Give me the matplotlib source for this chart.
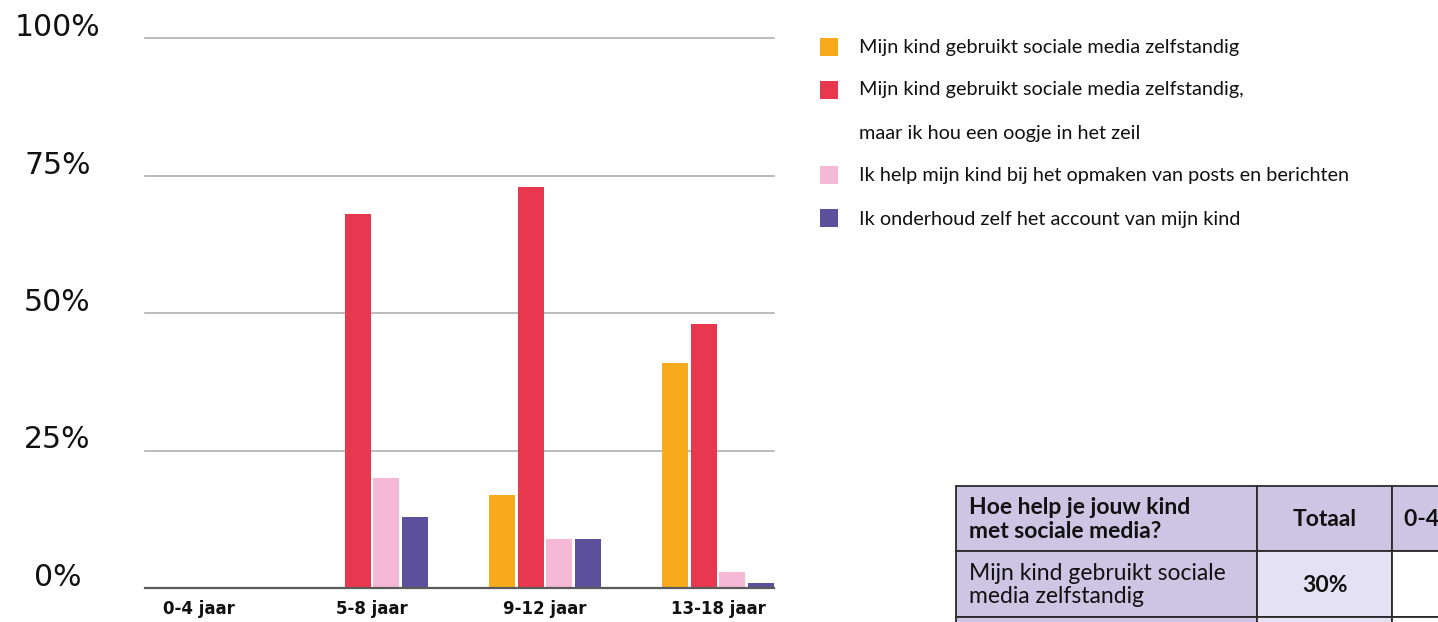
import matplotlib
matplotlib.use("Agg")
import matplotlib.pyplot as plt
import matplotlib.transforms as mtransforms
import numpy as np
from matplotlib.patches import Rectangle

# Age groups and answer shares (%)
groups = ["0-4 jaar", "5-8 jaar", "9-12 jaar", "13-18 jaar"]
zelfstandig = [0, 0, 17, 41]
zelfstandig_oogje = [0, 68, 73, 48]
help_posts = [0, 20, 9, 3]
account_ouder = [0, 13, 9, 1]

series_labels = [
    "Mijn kind gebruikt sociale media zelfstandig",
    "Mijn kind gebruikt sociale media zelfstandig,\nmaar ik hou een oogje in het zeil",
    "Ik help mijn kind bij het opmaken van posts en berichten",
    "Ik onderhoud zelf het account van mijn kind",
]
series_colors = ["#F7AA1C", "#E8384F", "#F5B8D6", "#5C509D"]
yticks = [0, 25, 50, 75, 100]
ytick_labels = ["0%", "25%", "50%", "75%", "100%"]

# Summary table
table_header = ["Hoe help je jouw kind\nmet sociale media?", "Totaal", "0-4 jaar"]
table_rows = [
    ["Mijn kind gebruikt sociale\nmedia zelfstandig", "30%", ""],
    ["", "", ""],
]

plt.rcParams["font.family"] = ["Lato", "DejaVu Sans"]

W, H = 1438, 622
fig = plt.figure(figsize=(W / 100, H / 100), dpi=100)

ax_l, ax_r, ax_b, ax_t = 145, 774, 588, 38
ax = fig.add_axes([ax_l / W, (H - ax_b) / H, (ax_r - ax_l) / W, (ax_b - ax_t) / H])
ax.set_xlim(-0.312, 3.324)
ax.set_ylim(0, 100)

x = np.arange(len(groups))
width = 0.15
step = 0.166
all_series = [zelfstandig, zelfstandig_oogje, help_posts, account_ouder]
for i, (vals, col) in enumerate(zip(all_series, series_colors)):
    ax.bar(x + (i - 1.5) * step, vals, width=width, color=col, zorder=3)

for v in yticks:
    ax.axhline(v, color="#5a5a5a" if v == 0 else "#a8a8a8",
               lw=1.6 if v == 0 else 1.1, zorder=2 if v else 4, clip_on=False)

for s in ax.spines.values():
    s.set_visible(False)
ax.set_yticks(yticks)
ax.set_yticklabels(ytick_labels, fontsize=21.5, color="#111111",
                   family=["DejaVu Sans"])
ax.tick_params(axis="y", length=0, pad=63)
lift = mtransforms.ScaledTranslation(0, 2 / 100, fig.dpi_scale_trans)
for lbl in ax.get_yticklabels():
    lbl.set_horizontalalignment("center")
    lbl.set_verticalalignment("baseline")
    lbl.set_transform(lbl.get_transform() + lift)
ax.set_xticks(x)
ax.set_xticklabels(groups, fontsize=12, fontweight="bold", color="#111111",
                   family=["DejaVu Sans"])
ax.tick_params(axis="x", length=0, pad=9)

# Legend drawn in pixel coordinates
leg = fig.add_axes([0, 0, 1, 1], facecolor="none")
leg.set_xlim(0, W)
leg.set_ylim(H, 0)
leg.axis("off")
leg_y = [47, 90, 175, 218]
for yy, col, lab in zip(leg_y, series_colors, series_labels):
    leg.add_patch(Rectangle((820, yy - 9), 18, 18, color=col, lw=0))
    two_lines = "\n" in lab
    leg.text(859, yy - 9 if two_lines else yy + 1, lab, fontsize=14.3,
             va="top" if two_lines else "center",
             linespacing=2.95, color="#111111")

# Table in pixel coordinates
tab_x = [956, 1257, 1392, 1560]
tab_y = [486, 551, 617, 700]
lav = "#CCC6E4"
lav_light = "#E4E1F2"
cell_colors = [[lav, lav, lav], [lav, lav_light, "white"], [lav, lav_light, "white"]]
all_rows = [table_header] + table_rows
for r, row in enumerate(all_rows):
    for c, txt in enumerate(row):
        x0, x1 = tab_x[c], tab_x[c + 1]
        y0, y1 = tab_y[r], tab_y[r + 1]
        leg.add_patch(Rectangle((x0, y0), x1 - x0, y1 - y0, facecolor=cell_colors[r][c],
                                edgecolor="#2a2a2a", lw=1.3))
        if not txt:
            continue
        bold = r == 0 or c == 1
        if c == 0:
            leg.text(x0 + 13, (y0 + y1) / 2 + 1, txt, fontsize=16.5, va="center", ha="left",
                     fontweight="bold" if bold else "normal", linespacing=1.15,
                     color="#111111")
        elif c == 1:
            leg.text((x0 + x1) / 2, (y0 + y1) / 2 + 1, txt, fontsize=16.5, va="center",
                     ha="center", fontweight="bold", color="#111111")
        else:
            leg.text(x0 + 12, (y0 + y1) / 2 + 1, txt, fontsize=16.5, va="center",
                     ha="left", fontweight="bold", color="#111111")

fig.savefig("out.png", dpi=100)
